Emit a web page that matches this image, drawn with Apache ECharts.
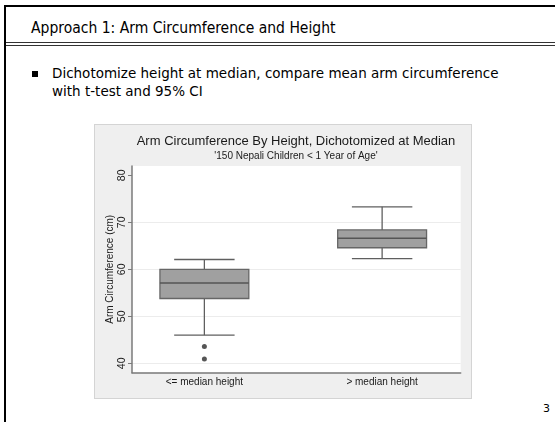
<!DOCTYPE html>
<html><head><meta charset="utf-8">
<script src="https://cdn.jsdelivr.net/npm/echarts@6/dist/echarts.min.js"></script>
<style>
html,body{margin:0;padding:0;background:#fff;}
body{width:555px;height:422px;position:relative;overflow:hidden;font-family:"DejaVu Sans",sans-serif;color:#000;}
.ln{position:absolute;background:#000;}
#chart{position:absolute;left:95px;top:125px;width:376px;height:273px;outline:1px solid #d4d4d4;}
</style></head><body>
<div class="ln" style="left:4px;top:5px;width:2px;height:417px"></div>
<div class="ln" style="left:4px;top:5px;width:551px;height:2px"></div>
<div class="ln" style="left:6px;top:42px;width:549px;height:1px;background:#333"></div>
<div class="ln" style="left:6px;top:45px;width:549px;height:1px;background:#333"></div>
<div style="position:absolute;left:31px;top:19px;font-size:15.5px;white-space:nowrap;font-family:'DejaVu Sans Condensed','DejaVu Sans',sans-serif">Approach 1: Arm Circumference and Height</div>
<div style="position:absolute;left:32px;top:71px;width:6px;height:6px;background:#000"></div>
<div style="position:absolute;left:52px;top:64px;font-size:13.5px;line-height:18px;white-space:nowrap">Dichotomize height at median, compare mean arm circumference<br>with t-test and 95% CI</div>
<div style="position:absolute;left:543px;top:402px;font-size:11px">3</div>
<div id="chart"></div>
<script>
const categories = ['<= median height', '> median height'];
// [lower whisker, Q1, median, Q3, upper whisker]
const boxStats = [
  [46.0, 53.8, 57.1, 60.0, 62.1],
  [62.3, 64.6, 66.6, 68.4, 73.3]
];
const outliers = [[0, 43.6], [0, 40.9]];
const yMin = 40, yMax = 80, yInterval = 10;
const frameMin = 38, frameMax = 82;
const chartTitle = 'Arm Circumference By Height, Dichotomized at Median';
const chartSubtitle = "'150 Nepali Children < 1 Year of Age'";
const yName = 'Arm Circumference (cm)';

const FF = '"Liberation Sans", Arial, sans-serif';
const chart = echarts.init(document.getElementById('chart'));
const whisk = '#5f5f5f';
const option = {
  backgroundColor: '#efefef',
  animation: false,
  title: {
    text: chartTitle, subtext: chartSubtitle,
    left: 201, top: 10, textAlign: 'center', padding: 0, itemGap: 3,
    textStyle: {fontFamily: FF, fontSize: 13, fontWeight: 'normal', color: '#1a1a1a'},
    subtextStyle: {fontFamily: FF, fontSize: 10, color: '#1a1a1a'}
  },
  grid: [
    {left: 37, right: 10.3, top: 50.3, bottom: 34.7},
    {left: 37, right: 10.3, top: 41, bottom: 25.3, show: true, backgroundColor: '#fff', borderWidth: 0},
    {left: 20.5, width: 362, top: 41, bottom: 25.3}
  ],
  xAxis: [
    {gridIndex: 0, type: 'value', min: 0, max: 1, show: false},
    {gridIndex: 1, type: 'value', min: 0, max: 1,
      axisLine: {show: true, onZero: false, lineStyle: {color: '#7a7a7a', width: 1.5}},
      axisTick: {show: false}, axisLabel: {show: false}, splitLine: {show: false}},
    {gridIndex: 2, type: 'category', data: categories,
      axisLine: {show: false}, axisTick: {show: false},
      axisLabel: {margin: 5, fontFamily: FF, fontSize: 10, color: '#1a1a1a'}}
  ],
  yAxis: [
    {gridIndex: 0, type: 'value', min: yMin, max: yMax, interval: yInterval,
      axisLine: {show: false},
      axisTick: {show: true, length: 4, lineStyle: {color: '#7a7a7a'}},
      axisLabel: {rotate: 90, margin: 4, fontFamily: FF, fontSize: 10.5, color: '#1a1a1a'},
      splitLine: {show: true, lineStyle: {color: ['#ececec', '#ececec', '#ececec', '#ececec', 'rgba(0,0,0,0)'], width: 1}},
      name: yName, nameLocation: 'middle', nameGap: 17, nameMoveOverlap: false,
      nameTextStyle: {fontFamily: FF, fontSize: 10, color: '#1a1a1a'}},
    {gridIndex: 1, type: 'value', min: frameMin, max: frameMax,
      axisLine: {show: true, onZero: false, lineStyle: {color: '#7a7a7a', width: 1.5}},
      axisTick: {show: false}, axisLabel: {show: false}, splitLine: {show: false}},
    {gridIndex: 2, type: 'value', min: frameMin, max: frameMax, show: false}
  ],
  series: [
    {
      type: 'custom', xAxisIndex: 2, yAxisIndex: 2,
      encode: {x: 0, y: [1, 2, 3, 4, 5]},
      data: boxStats.map((s, i) => [i].concat(s)),
      renderItem: function (params, api) {
        const idx = api.value(0);
        const low = api.coord([idx, api.value(1)]);
        const q1 = api.coord([idx, api.value(2)]);
        const med = api.coord([idx, api.value(3)]);
        const q3 = api.coord([idx, api.value(4)]);
        const high = api.coord([idx, api.value(5)]);
        const bw = api.size([1, 0])[0];
        const bh = bw * 0.25, ch = bw * 0.17;
        const cx = med[0];
        const ws = {stroke: whisk, lineWidth: 1.3};
        return {type: 'group', children: [
          {type: 'line', shape: {x1: cx, y1: q3[1], x2: cx, y2: high[1]}, style: ws},
          {type: 'line', shape: {x1: cx, y1: q1[1], x2: cx, y2: low[1]}, style: ws},
          {type: 'line', shape: {x1: cx - ch, y1: high[1], x2: cx + ch, y2: high[1]}, style: ws},
          {type: 'line', shape: {x1: cx - ch, y1: low[1], x2: cx + ch, y2: low[1]}, style: ws},
          {type: 'rect', shape: {x: cx - bh, y: q3[1], width: 2 * bh, height: q1[1] - q3[1]},
            style: {fill: '#a0a0a0', stroke: '#666', lineWidth: 1.3}},
          {type: 'line', shape: {x1: cx - bh, y1: med[1], x2: cx + bh, y2: med[1]},
            style: {stroke: '#555', lineWidth: 1.5}}
        ]};
      }
    },
    {
      type: 'scatter', xAxisIndex: 2, yAxisIndex: 2,
      data: outliers, symbol: 'circle', symbolSize: 5,
      itemStyle: {color: '#2a2a2a'}
    }
  ]
};
chart.setOption(option);
</script>
</body></html>
